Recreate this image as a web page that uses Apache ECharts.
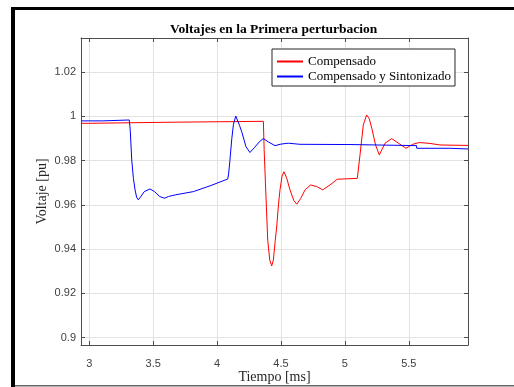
<!DOCTYPE html>
<html>
<head>
<meta charset="utf-8">
<script src="https://cdn.jsdelivr.net/npm/echarts@6/dist/echarts.min.js"></script>
<style>
  html, body { margin: 0; padding: 0; background: #fff; }
  #chart { width: 514px; height: 387px; }
</style>
</head>
<body>
<div id="chart"></div>
<script>
// ---- datos ----
var timeComp = [2.935, 2.998, 3.000, 3.645, 3.647, 4.362, 4.368, 4.378, 4.396, 4.412, 4.427, 4.440, 4.455, 4.466, 4.480, 4.492, 4.508, 4.523, 4.545, 4.570, 4.600, 4.623, 4.655, 4.688, 4.732, 4.779, 4.826, 4.883, 4.940, 5.097, 5.118, 5.144, 5.170, 5.190, 5.210, 5.240, 5.269, 5.314, 5.366, 5.431, 5.478, 5.530, 5.582, 5.666, 5.744, 5.963];
var voltComp = [0.9969, 0.9969, 0.9974, 0.9974, 0.9978, 0.9978, 0.9850, 0.9700, 0.9440, 0.9350, 0.9324, 0.9350, 0.9440, 0.9500, 0.9600, 0.9668, 0.9730, 0.9750, 0.9720, 0.9668, 0.9620, 0.9603, 0.9630, 0.9668, 0.9690, 0.9683, 0.9668, 0.9690, 0.9716, 0.9720, 0.9826, 0.9962, 1.0007, 0.9990, 0.9947, 0.9870, 0.9826, 0.9879, 0.9900, 0.9874, 0.9856, 0.9874, 0.9882, 0.9878, 0.9871, 0.9869];

var timeSint = [2.935, 3.105, 3.107, 3.313, 3.320, 3.332, 3.345, 3.358, 3.370, 3.383, 3.400, 3.430, 3.475, 3.510, 3.550, 3.587, 3.620, 3.671, 3.814, 3.944, 4.083, 4.090, 4.100, 4.115, 4.128, 4.146, 4.158, 4.175, 4.193, 4.226, 4.257, 4.290, 4.330, 4.362, 4.400, 4.453, 4.500, 4.557, 4.649, 5.040, 5.042, 5.560, 5.562, 5.820, 5.822, 5.963];
var voltSint = [0.9980, 0.9980, 0.9984, 0.9984, 0.9940, 0.9803, 0.9720, 0.9668, 0.9635, 0.9623, 0.9635, 0.9660, 0.9672, 0.9660, 0.9638, 0.9630, 0.9638, 0.9645, 0.9660, 0.9686, 0.9717, 0.9740, 0.9800, 0.9900, 0.9965, 1.0002, 0.9995, 0.9960, 0.9930, 0.9863, 0.9837, 0.9858, 0.9885, 0.9900, 0.9885, 0.9868, 0.9875, 0.9879, 0.9874, 0.9873, 0.9868, 0.9868, 0.9856, 0.9856, 0.9853, 0.9853];

var seriesNames = ['Compensado', 'Compensado y Sintonizado'];
var xMin = 2.935, xMax = 5.963;
var yMin = 0.8966, yMax = 1.0355;

function pares(t, v) {
    var out = [];
    for (var i = 0; i < t.length; i++) out.push([t[i], v[i]]);
    return out;
}

var serif = '"Liberation Serif", "Times New Roman", serif';
var sans = '"Liberation Sans", Arial, sans-serif';
var ejeColor = '#4d4d4d';

var myChart = echarts.init(document.getElementById('chart'));
var option = {
    backgroundColor: '#fff',
    animation: false,
    title: {
        text: 'Voltajes en la Primera perturbacion',
        left: 170,
        top: 23,
        padding: 0,
        textStyle: { fontFamily: serif, fontSize: 13.5, fontWeight: 'bold', color: '#000' }
    },
    legend: {
        orient: 'vertical',
        left: 272,
        top: 49,
        padding: [6, 4, 3, 4],
        itemGap: 2,
        itemWidth: 26,
        itemHeight: 14,
        itemStyle: { opacity: 0 },
        borderColor: '#262626',
        borderWidth: 1,
        backgroundColor: '#fff',
        data: seriesNames,
        textStyle: { fontFamily: serif, fontSize: 13, color: '#000' }
    },
    grid: { left: 81, right: 46, top: 38, bottom: 42, containLabel: false, outerBoundsMode: 'none' },
    xAxis: [{
        type: 'value',
        min: xMin,
        max: xMax,
        splitNumber: 6,
        name: 'Tiempo [ms]',
        nameLocation: 'middle',
        nameGap: 25,
        nameMoveOverlap: false,
        nameTextStyle: { fontFamily: serif, fontSize: 14, color: '#262626' },
        axisLine: { lineStyle: { color: ejeColor, width: 1 } },
        axisTick: { inside: true, length: 4, lineStyle: { color: ejeColor } },
        axisLabel: { showMinLabel: false, showMaxLabel: false, margin: 13, fontFamily: sans, fontSize: 11, color: '#404040' },
        splitLine: { show: true, lineStyle: { color: '#e3e3e3', width: 1 } }
    }, {
        type: 'value',
        position: 'top',
        min: xMin,
        max: xMax,
        splitNumber: 6,
        axisLine: { lineStyle: { color: ejeColor, width: 1 } },
        axisTick: { inside: true, length: 4, lineStyle: { color: ejeColor } },
        axisLabel: { show: false },
        splitLine: { show: false }
    }],
    yAxis: [{
        type: 'value',
        min: yMin,
        max: yMax,
        splitNumber: 7,
        name: 'Voltaje [pu]',
        nameLocation: 'middle',
        nameGap: 32,
        nameMoveOverlap: false,
        nameTextStyle: { fontFamily: serif, fontSize: 14, color: '#262626' },
        axisLine: { show: true, lineStyle: { color: ejeColor, width: 1 } },
        axisTick: { show: true, inside: true, length: 4, lineStyle: { color: ejeColor } },
        axisLabel: { showMinLabel: false, showMaxLabel: false, margin: 5, fontFamily: sans, fontSize: 11, color: '#404040' },
        splitLine: { show: true, lineStyle: { color: '#e3e3e3', width: 1 } }
    }, {
        type: 'value',
        position: 'right',
        min: yMin,
        max: yMax,
        splitNumber: 7,
        axisLine: { show: true, lineStyle: { color: ejeColor, width: 1 } },
        axisTick: { show: true, inside: true, length: 4, lineStyle: { color: ejeColor } },
        axisLabel: { show: false },
        splitLine: { show: false }
    }],
    series: [{
        name: seriesNames[0],
        type: 'line',
        symbol: 'none',
        color: '#ff0000',
        lineStyle: { color: '#ff0000', width: 1 },
        data: pares(timeComp, voltComp)
    }, {
        name: seriesNames[1],
        type: 'line',
        symbol: 'none',
        color: '#0000ff',
        lineStyle: { color: '#0000ff', width: 1 },
        data: pares(timeSint, voltSint)
    }],
    // marco negro de la captura
    graphic: [
        { type: 'rect', shape: { x: 11, y: 7, width: 4, height: 380 }, style: { fill: '#000' }, silent: true },
        { type: 'rect', shape: { x: 11, y: 7, width: 503, height: 3 }, style: { fill: '#000' }, silent: true },
        { type: 'rect', shape: { x: 15, y: 385, width: 499, height: 1.5 }, style: { fill: '#666' }, silent: true }
    ]
};
myChart.setOption(option);
</script>
</body>
</html>
